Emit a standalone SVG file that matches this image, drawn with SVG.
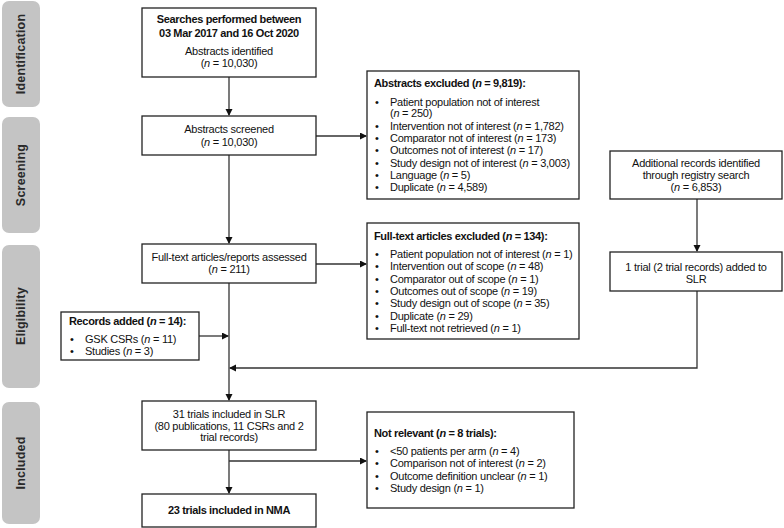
<svg xmlns="http://www.w3.org/2000/svg" width="784" height="528" viewBox="0 0 784 528">
<style>
text{font-family:"Liberation Sans",Arial,sans-serif;font-size:11px;fill:#111;letter-spacing:-0.25px}
.c{text-anchor:middle}
.b{font-weight:bold;letter-spacing:-0.35px}
.stage rect{fill:#c4c4c4}
.stage text{font-weight:bold;font-size:12.5px;fill:#2a2a2a;text-anchor:middle;letter-spacing:0.2px}
.box{fill:#fff;stroke:#222;stroke-width:1.3}
.ln{fill:none;stroke:#333;stroke-width:1.3}
</style>
<defs>
<marker id="ah" markerWidth="8" markerHeight="8" refX="6" refY="3.5" orient="auto" markerUnits="userSpaceOnUse">
<path d="M0,0 L7,3.5 L0,7 Z" fill="#111"/>
</marker>
</defs>
<rect width="784" height="528" fill="#fff"/>
<g id="stages" class="stage">
<rect x="2" y="1" width="38" height="106" rx="7"/>
<text transform="translate(25,54) rotate(-90)">Identification</text>
<rect x="2" y="117" width="38" height="116" rx="7"/>
<text transform="translate(25,175) rotate(-90)">Screening</text>
<rect x="2" y="245" width="38" height="143" rx="7"/>
<text transform="translate(25,316) rotate(-90)">Eligibility</text>
<rect x="2" y="402" width="38" height="122" rx="7"/>
<text transform="translate(25,463) rotate(-90)">Included</text>
</g>
<g id="connectors">
<line class="ln" x1="229" y1="77" x2="229" y2="115" marker-end="url(#ah)"/>
<line class="ln" x1="316" y1="136" x2="366" y2="136" marker-end="url(#ah)"/>
<line class="ln" x1="229" y1="155" x2="229" y2="243" marker-end="url(#ah)"/>
<line class="ln" x1="316" y1="264" x2="366" y2="264" marker-end="url(#ah)"/>
<line class="ln" x1="229" y1="283" x2="229" y2="400" marker-end="url(#ah)"/>
<line class="ln" x1="199" y1="336" x2="228" y2="336" marker-end="url(#ah)"/>
<line class="ln" x1="697" y1="199" x2="697" y2="251" marker-end="url(#ah)"/>
<polyline class="ln" points="697,291 697,368 230,368" marker-end="url(#ah)"/>
<line class="ln" x1="229" y1="450" x2="229" y2="493" marker-end="url(#ah)"/>
<line class="ln" x1="229" y1="461" x2="366" y2="461" marker-end="url(#ah)"/>
</g>
<g id="searches">
<rect class="box" x="142" y="8" width="174" height="69"/>
<text class="c b" x="229" y="23">Searches performed between</text>
<text class="c b" x="229" y="37">03 Mar 2017 and 16 Oct 2020</text>
<text class="c" x="229" y="55">Abstracts identified</text>
<text class="c" x="229" y="67">(<tspan font-style="italic">n</tspan> = 10,030)</text>
</g>
<g id="screened">
<rect class="box" x="142" y="116" width="174" height="39"/>
<text class="c" x="229" y="133">Abstracts screened</text>
<text class="c" x="229" y="146">(<tspan font-style="italic">n</tspan> = 10,030)</text>
</g>
<g id="abstracts-excluded">
<rect class="box" x="367" y="71" width="212" height="128"/>
<text class="b" x="374" y="87">Abstracts excluded (<tspan font-style="italic">n</tspan> = 9,819):</text>
<g>
<text x="375" y="106">•</text><text x="390" y="106">Patient population not of interest</text>
<text x="390" y="117">(<tspan font-style="italic">n</tspan> = 250)</text>
<text x="375" y="130">•</text><text x="390" y="130">Intervention not of interest (<tspan font-style="italic">n</tspan> = 1,782)</text>
<text x="375" y="142">•</text><text x="390" y="142">Comparator not of interest (<tspan font-style="italic">n</tspan> = 173)</text>
<text x="375" y="154">•</text><text x="390" y="154">Outcomes not of interest (<tspan font-style="italic">n</tspan> = 17)</text>
<text x="375" y="167">•</text><text x="390" y="167">Study design not of interest (<tspan font-style="italic">n</tspan> = 3,003)</text>
<text x="375" y="179">•</text><text x="390" y="179">Language (<tspan font-style="italic">n</tspan> = 5)</text>
<text x="375" y="191">•</text><text x="390" y="191">Duplicate (<tspan font-style="italic">n</tspan> = 4,589)</text>
</g>
</g>
<g id="fulltext-assessed">
<rect class="box" x="142" y="244" width="174" height="39"/>
<text class="c" x="229" y="261">Full-text articles/reports assessed</text>
<text class="c" x="229" y="273">(<tspan font-style="italic">n</tspan> = 211)</text>
</g>
<g id="fulltext-excluded">
<rect class="box" x="367" y="223" width="212" height="116"/>
<text class="b" x="374" y="240">Full-text articles excluded (<tspan font-style="italic">n</tspan> = 134):</text>
<text x="375" y="258">•</text><text x="390" y="258">Patient population not of interest (<tspan font-style="italic">n</tspan> = 1)</text>
<text x="375" y="270">•</text><text x="390" y="270">Intervention out of scope (<tspan font-style="italic">n</tspan> = 48)</text>
<text x="375" y="283">•</text><text x="390" y="283">Comparator out of scope (<tspan font-style="italic">n</tspan> = 1)</text>
<text x="375" y="295">•</text><text x="390" y="295">Outcomes out of scope (<tspan font-style="italic">n</tspan> = 19)</text>
<text x="375" y="307">•</text><text x="390" y="307">Study design out of scope (<tspan font-style="italic">n</tspan> = 35)</text>
<text x="375" y="320">•</text><text x="390" y="320">Duplicate (<tspan font-style="italic">n</tspan> = 29)</text>
<text x="375" y="332">•</text><text x="390" y="332">Full-text not retrieved (<tspan font-style="italic">n</tspan> = 1)</text>
</g>
<g id="registry">
<rect class="box" x="610" y="151" width="172" height="48"/>
<text class="c" x="696" y="167">Additional records identified</text>
<text class="c" x="696" y="179">through registry search</text>
<text class="c" x="696" y="191">(<tspan font-style="italic">n</tspan> = 6,853)</text>
</g>
<g id="trial-added">
<rect class="box" x="610" y="252" width="172" height="39"/>
<text class="c" x="696" y="271">1 trial (2 trial records) added to</text>
<text class="c" x="696" y="283">SLR</text>
</g>
<g id="records-added">
<rect class="box" x="61" y="312" width="138" height="48"/>
<text class="b" x="69" y="325">Records added (<tspan font-style="italic">n</tspan> = 14):</text>
<text x="70" y="343">•</text><text x="85" y="343">GSK CSRs (<tspan font-style="italic">n</tspan> = 11)</text>
<text x="70" y="355">•</text><text x="85" y="355">Studies (<tspan font-style="italic">n</tspan> = 3)</text>
</g>
<g id="slr">
<rect class="box" x="142" y="401" width="174" height="49"/>
<text class="c" x="229" y="418">31 trials included in SLR</text>
<text class="c" x="229" y="430">(80 publications, 11 CSRs and 2</text>
<text class="c" x="229" y="441">trial records)</text>
</g>
<g id="not-relevant">
<rect class="box" x="367" y="412" width="207" height="96"/>
<text class="b" x="374" y="437">Not relevant (<tspan font-style="italic">n</tspan> = 8 trials):</text>
<text x="375" y="455">•</text><text x="390" y="455">&lt;50 patients per arm (<tspan font-style="italic">n</tspan> = 4)</text>
<text x="375" y="467">•</text><text x="390" y="467">Comparison not of interest (<tspan font-style="italic">n</tspan> = 2)</text>
<text x="375" y="480">•</text><text x="390" y="480">Outcome definition unclear (<tspan font-style="italic">n</tspan> = 1)</text>
<text x="375" y="492">•</text><text x="390" y="492">Study design (<tspan font-style="italic">n</tspan> = 1)</text>
</g>
<g id="nma">
<rect class="box" x="142" y="494" width="174" height="33"/>
<text class="c b" x="229" y="514">23 trials included in NMA</text>
</g>
</svg>
